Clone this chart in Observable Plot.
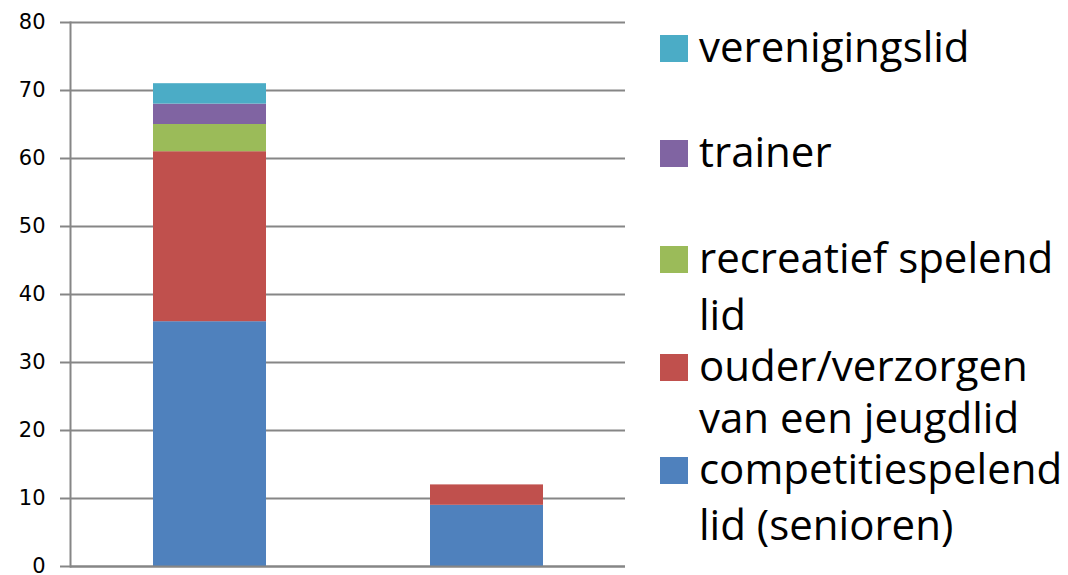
<!DOCTYPE html>
<html>
<head>
<meta charset="utf-8">
<script src="https://cdn.jsdelivr.net/npm/d3@7"></script>
<script src="https://cdn.jsdelivr.net/npm/@observablehq/plot@0.6"></script>
<style>
  html, body { margin: 0; padding: 0; background: #fff; }
  #wrap { position: relative; width: 1068px; height: 575px; overflow: hidden; }
  #chart { position: absolute; left: 0; top: 0; }
  #legend { position: absolute; left: 660px; top: 0; font-family: "Open Sans", Lato, sans-serif; font-size: 42px; color: #000; }
  .sw { position: absolute; left: 0; width: 28px; height: 27px; }
  .line { position: absolute; left: 39px; line-height: 42px; height: 42px; white-space: nowrap; }
</style>
</head>
<body>
<div id="wrap">
  <div id="chart"></div>
  <div id="legend"></div>
</div>
<script>
// categories (the two bars carry no labels in the original)
const categories = ["groep 1", "groep 2"];
// series, bottom to top of the stack
const series = [
  "competitiespelend lid (senioren)",
  "ouder/verzorgen van een jeugdlid",
  "recreatief spelend lid",
  "trainer",
  "verenigingslid"
];
const values1 = [36, 25, 4, 3, 3];
const values2 = [9, 3, 0, 0, 0];
const colors = ["#4F81BD", "#C0504D", "#9BBB59", "#8064A2", "#4BACC6"];
const yTicks = [0, 10, 20, 30, 40, 50, 60, 70, 80];
// legend lines (top to bottom), wrapped as in the original
const legendLines = [
  ["verenigingslid"],
  ["trainer"],
  ["recreatief spelend", "lid"],
  ["ouder/verzorgen", "van een jeugdlid"],
  ["competitiespelend", "lid (senioren)"]
];

const table = [];
[values1, values2].forEach((vals, ci) => {
  vals.forEach((v, si) => table.push({cat: categories[ci], series: series[si], value: v}));
});

const grid = "#868686";
const chart = Plot.plot({
  width: 630,
  height: 575,
  marginLeft: 70,
  marginRight: 5,
  marginTop: 22,
  marginBottom: 9,
  style: {fontFamily: "'DejaVu Sans', Verdana, sans-serif", fontSize: "21px", color: "#000", background: "#fff"},
  x: {domain: categories, paddingInner: 0.593, paddingOuter: 0.2965, axis: null},
  y: {domain: [0, 80]},
  color: {domain: series, range: colors},
  marks: [
    Plot.gridY(yTicks, {stroke: grid, strokeOpacity: 1, strokeWidth: 2}),
    Plot.axisY(yTicks, {tickSize: 10, tickPadding: 15, stroke: grid, strokeWidth: 2, label: null, fill: "#000", fontSize: 21}),
    Plot.barY(table, {x: "cat", y: "value", fill: "series", order: series}),
    Plot.ruleY([0], {stroke: grid, strokeWidth: 2}),
    Plot.frame({anchor: "left", stroke: grid, strokeWidth: 2})
  ]
});
document.getElementById("chart").appendChild(chart);

// legend layout: baseline of first line of each entry, and of its second line
const legendBaselines = [[62], [167], [273, 330], [381, 433], [484, 540]];
const legendColors = colors.slice().reverse();
const legend = document.getElementById("legend");
legendLines.forEach((lines, i) => {
  const sw = document.createElement("div");
  sw.className = "sw";
  sw.style.background = legendColors[i];
  sw.style.top = (legendBaselines[i][0] - 27) + "px";
  legend.appendChild(sw);
  lines.forEach((t, j) => {
    const el = document.createElement("div");
    el.className = "line";
    el.style.top = (legendBaselines[i][j] - 37) + "px";
    el.textContent = t;
    legend.appendChild(el);
  });
});
</script>
</body>
</html>
